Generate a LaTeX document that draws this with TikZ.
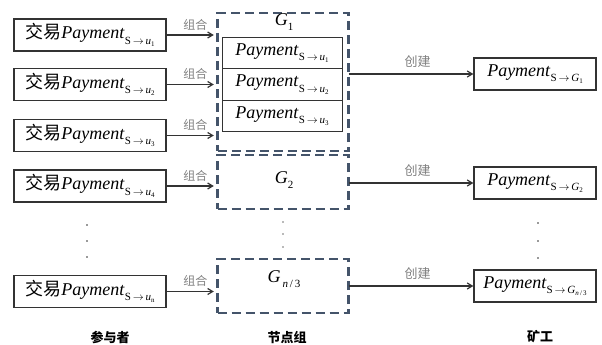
\documentclass[tikz,border=0pt]{standalone}
\usepackage{fontspec}
\setmainfont{Liberation Serif}
\newfontfamily\cjk{Noto Sans CJK SC}
\usetikzlibrary{arrows.meta}
\definecolor{dashc}{HTML}{44546A}
\definecolor{boxc}{HTML}{333333}
\definecolor{lblc}{HTML}{808080}
\newcommand\subsz{\fontsize{11}{11}\selectfont}
\newcommand\subsubsz{\fontsize{7}{7}\selectfont}
\newcommand\payS[2]{\textit{Payment}\raisebox{-5.5pt}{\subsz S$\,\rightarrow\,$\textit{#1}\raisebox{-2pt}{\subsubsz #2}}}
\begin{document}
\begin{tikzpicture}[x=1pt,y=-1pt,
  tbox/.style={draw=boxc,line width=1.3pt,minimum width=152pt,minimum height=32pt,inner sep=0pt,font=\fontsize{18}{18}\selectfont},
  ibox/.style={draw=boxc,line width=1pt,minimum width=120pt,minimum height=31.5pt,inner sep=0pt,font=\fontsize{18}{18}\selectfont},
  rbox/.style={draw=boxc,line width=1.3pt,minimum width=122pt,minimum height=32pt,inner sep=0pt,font=\fontsize{18}{18}\selectfont},
  gbox/.style={draw=dashc,line width=2.4pt,dash pattern=on 9pt off 5pt,minimum width=131pt,inner sep=0pt},
  glabel/.style={font=\fontsize{18}{18}\selectfont,inner sep=0pt},
  conn/.style={draw=boxc,line width=1.3pt,-{Straight Barb[length=5pt,width=6pt,line width=1.2pt]}},
  clbl/.style={text=lblc,font=\cjk\fontsize{12}{12}\selectfont,inner sep=1pt,above=3pt},
  bottom/.style={font=\cjk\bfseries\fontsize{13}{13}\selectfont,inner sep=0pt},
  vdot/.style={circle,fill=black!80,minimum size=1.8pt,inner sep=0pt}]
\useasboundingbox (0,0) rectangle (602,345);
% left boxes
\node[tbox] (L1) at (90,35) {{\cjk 交易}\payS{u}{1}};
\node[tbox] (L2) at (90,84.5) {{\cjk 交易}\payS{u}{2}};
\node[tbox] (L3) at (90,135.5) {{\cjk 交易}\payS{u}{3}};
\node[tbox] (L4) at (90,186) {{\cjk 交易}\payS{u}{4}};
\node[tbox] (Ln) at (90,291.5) {{\cjk 交易}\payS{u}{n}};
% group boxes
\node[gbox,minimum height=138pt] (G1) at (283,82) {};
\node[gbox,minimum height=54pt] (G2) at (283,182) {};
\node[gbox,minimum height=54pt] (Gn) at (283,286) {};
\node[glabel] (G1l) at (284,22) {\textit{G}\raisebox{-0.3em}{\fontsize{11}{11}\selectfont 1}};
\node[glabel] (G2l) at (284,180) {\textit{G}\raisebox{-0.3em}{\fontsize{11}{11}\selectfont 2}};
\node[glabel] (Gnl) at (284,279) {\textit{G}\raisebox{-0.3em}{\fontsize{11}{11}\selectfont\,\textit{n}\,/\,3}};
% inner boxes
\node[ibox] (I1) at (282,53) {\payS{u}{1}};
\node[ibox] (I2) at (282,84.5) {\payS{u}{2}};
\node[ibox] (I3) at (282,116) {\payS{u}{3}};
% right boxes
\node[rbox] (R1) at (535,74) {\payS{G}{1}};
\node[rbox] (R2) at (535,183) {\payS{G}{2}};
\node[rbox] (Rn) at (535,286) {\payS{G}{\textit{n}\,/\,3}};
% left connectors
\foreach \a/\b in {L1/G1,L2/G1,L3/G1,L4/G2,Ln/Gn}{
  \draw[conn,shorten >=2.5pt] (\a.east) -- node[clbl,pos=0.58]{组合} (\a.east -| \b.west);
}
% right connectors
\foreach \a/\b in {G1/R1,G2/R2,Gn/Rn}{
  \draw[conn,shorten <=-1pt] (\b.west -| \a.east) -- node[clbl,above=2pt,pos=0.55,font=\cjk\fontsize{13}{13}\selectfont]{创建} (\b.west);
}
% dots
\foreach \y [count=\i] in {225,241,257}{\node[vdot] (ld\i) at (87,\y) {};}
\foreach \y [count=\i] in {222,234,247}{\node[vdot,fill=black!55] (md\i) at (283,\y) {};}
\foreach \y [count=\i] in {223,241,258}{\node[vdot] (rd\i) at (538,\y) {};}
% bottom labels
\node[bottom] (B1) at (110,337) {参与者};
\node[bottom] (B2) at (287,337) {节点组};
\node[bottom] (B3) at (540,337) {矿工};
\end{tikzpicture}
\end{document}
